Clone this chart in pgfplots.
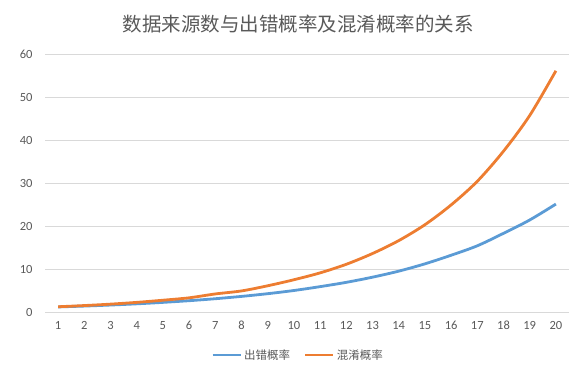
\documentclass[border=0pt]{standalone}
\usepackage{pgfplots}
\pgfplotsset{compat=1.18}
\usepackage{fontspec}
\setmainfont{Carlito}
\newfontfamily\cjk{Noto Sans CJK SC}
\definecolor{sblue}{HTML}{5B9BD5}
\definecolor{sorange}{HTML}{ED7D31}
\definecolor{gridc}{HTML}{D9D9D9}
\definecolor{txt}{HTML}{595959}
\begin{document}
\begin{tikzpicture}
\path[use as bounding box] (0,0) rectangle (585pt,373pt);
\begin{axis}[
  at={(45pt,61pt)}, anchor=south west,
  scale only axis, width=524pt, height=258pt,
  xmin=0.5, xmax=20.5, ymin=0, ymax=60,
  xtick={1,...,20}, ytick={0,10,...,60},
  ymajorgrids, major grid style={gridc, line width=0.8pt},
  axis line style={draw=none},
  axis x line*=bottom,
  x axis line style={draw=gridc, line width=0.8pt},
  major tick length=0pt,
  tick label style={font=\fontsize{12.5}{12.5}\selectfont, text=txt},
  /pgf/number format/assume math mode=true,
  yticklabel style={xshift=-9pt},
  xticklabel style={anchor=base, yshift=-17pt, text height=8pt, text depth=0pt},
  legend columns=2,
  legend style={at={(0.483,-0.167)}, anchor=center, draw=none, fill=none,
    font=\cjk\fontsize{11.5}{12}\selectfont, text=txt,
    /tikz/every even column/.append style={column sep=12pt}},
  legend image code/.code={\draw[#1, line width=2.8pt] (0pt,0pt) -- (28pt,0pt);},
]
\addplot[sblue, line width=2.8pt, smooth] coordinates {
(1,1.18)(2,1.38)(3,1.62)(4,1.9)(5,2.24)(6,2.63)(7,3.09)(8,3.63)(9,4.26)(10,5.0)
(11,5.9)(12,6.9)(13,8.1)(14,9.5)(15,11.2)(16,13.2)(17,15.4)(18,18.3)(19,21.4)(20,25.1)};
\addlegendentry{出错概率}
\addplot[sorange, line width=2.8pt, smooth] coordinates {
(1,1.22)(2,1.5)(3,1.83)(4,2.24)(5,2.74)(6,3.3)(7,4.2)(8,4.9)(9,6.1)(10,7.5)
(11,9.1)(12,11.1)(13,13.6)(14,16.6)(15,20.3)(16,24.9)(17,30.4)(18,37.4)(19,45.7)(20,56.1)};
\addlegendentry{混淆概率}
\end{axis}
\node[font=\cjk\fontsize{19.5}{20}\selectfont, text=txt] at (298pt,349pt) {数据来源数与出错概率及混淆概率的关系};
\end{tikzpicture}
\end{document}
